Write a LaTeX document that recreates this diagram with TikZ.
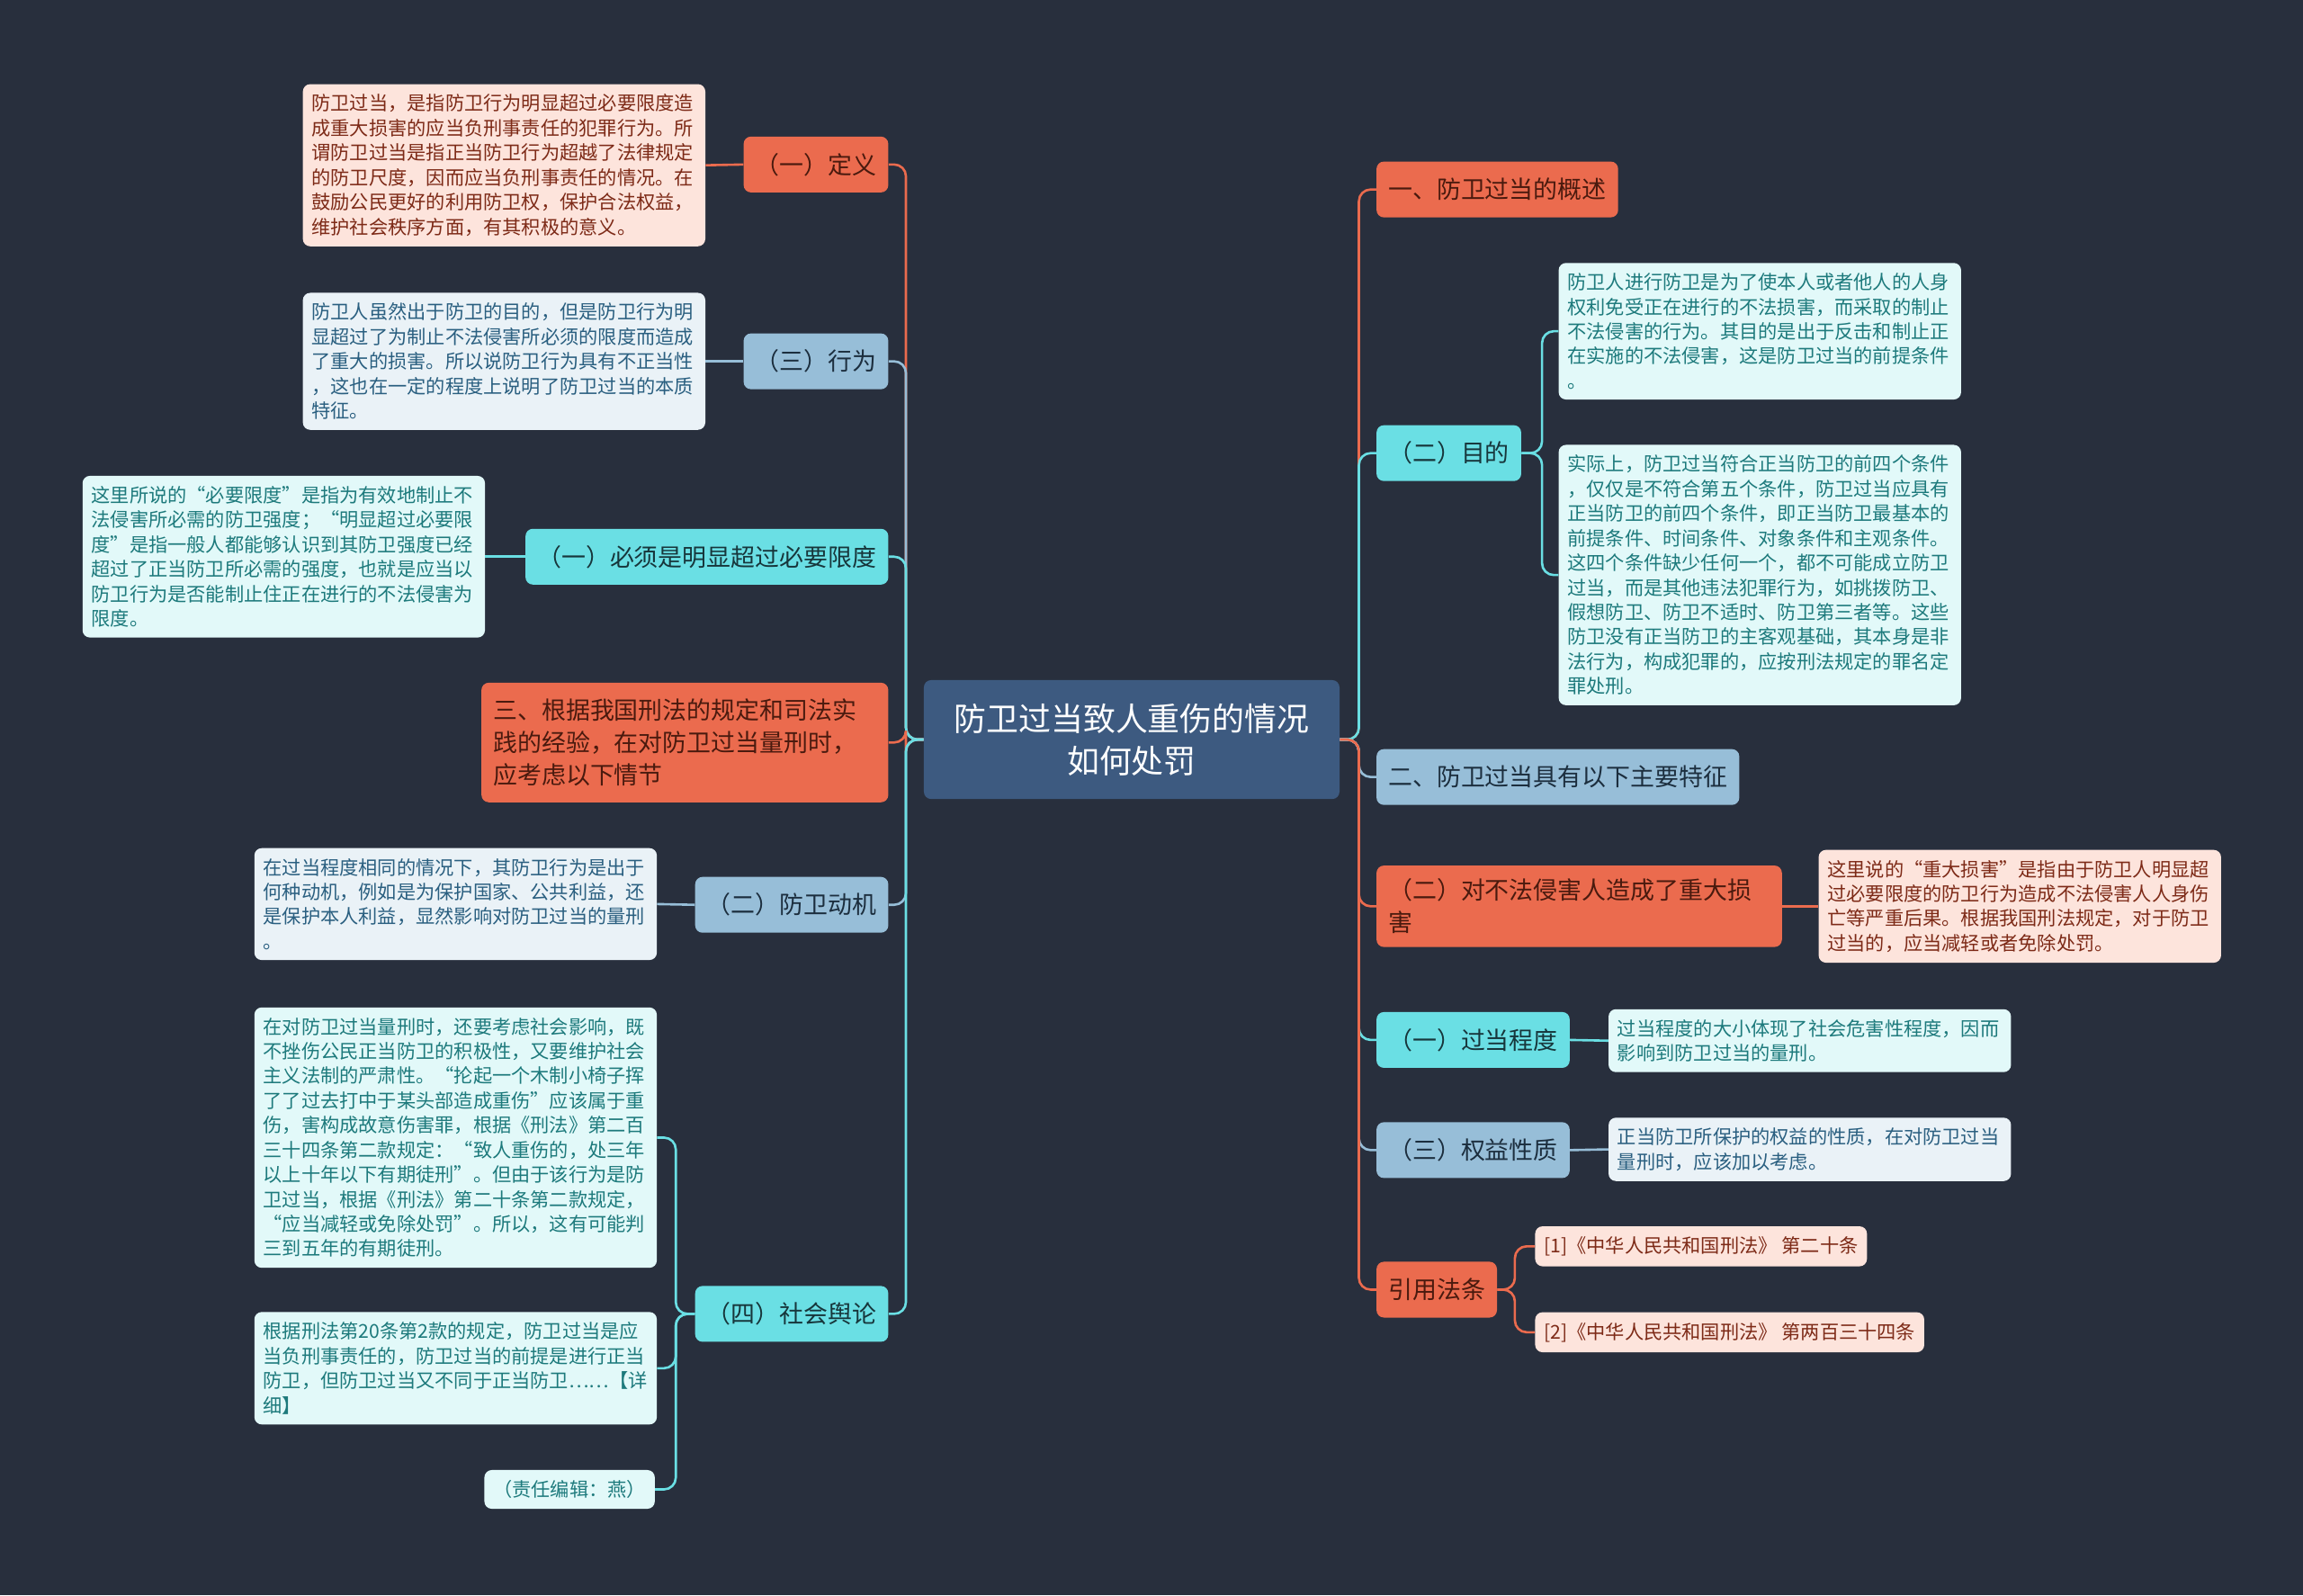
\documentclass[tikz,border=0pt]{standalone}
\usepackage{fontspec}
\setmainfont{Noto Sans CJK SC}

\definecolor{bgc}{HTML}{282F3D}
\definecolor{rootc}{HTML}{3D5A80}
\definecolor{orangec}{HTML}{EB6B4E}
\definecolor{cyanc}{HTML}{6ADFE4}
\definecolor{bluec}{HTML}{97BED8}
\definecolor{orangetxt}{HTML}{4A1A0E}
\definecolor{cyantxt}{HTML}{17363B}
\definecolor{bluetxt}{HTML}{1C2E3E}
\definecolor{pinkfill}{HTML}{FDE4DC}
\definecolor{pinktxt}{HTML}{7D2A17}
\definecolor{cyanfill}{HTML}{E2F9F9}
\definecolor{cyanleaftxt}{HTML}{1D7A7C}
\definecolor{bluefill}{HTML}{EAF2F7}
\definecolor{blueleaftxt}{HTML}{2A5F80}

\begin{document}
\begin{tikzpicture}[x=1pt,y=-1pt,
  topic/.style={rounded corners=5pt, inner xsep=8pt, inner ysep=4pt, minimum height=38pt,
    font=\fontsize{16.5}{22}\selectfont, align=left},
  orangenode/.style={topic, fill=orangec, text=orangetxt},
  cyannode/.style={topic, fill=cyanc, text=cyantxt},
  bluenode/.style={topic, fill=bluec, text=bluetxt},
  leaf/.style={rounded corners=5pt, inner xsep=6pt, inner ysep=7pt,
    font=\fontsize{13}{16.8}\selectfont, align=left},
  pinkleaf/.style={leaf, fill=pinkfill, text=pinktxt},
  cyanleaf/.style={leaf, fill=cyanfill, text=cyanleaftxt},
  blueleaf/.style={leaf, fill=bluefill, text=blueleaftxt},
  link/.style={line width=1.6pt, rounded corners=8pt}]

\fill[bgc] (0,0) rectangle (1568,1086);
\useasboundingbox (0,0) rectangle (1568,1086);

% --- Root ---
\node[fill=rootc, text=white, rounded corners=5pt, minimum width=283pt, minimum height=81pt,
  font=\fontsize{22}{29}\selectfont, align=center] (root) at (770.5,503.5)
  {防卫过当致人重伤的情况\\如何处罚};

% --- Left topics ---
\node[orangenode, anchor=east] (dingyi) at (605,112) {（一）定义};
\node[bluenode, anchor=east] (xingwei) at (605,246) {（三）行为};
\node[cyannode, anchor=east] (bixu) at (605,379) {（一）必须是明显超过必要限度};
\node[orangenode, anchor=east, text width=261pt, inner ysep=11pt] (san) at (605,505.5)
  {三、根据我国刑法的规定和司法实\\践的经验，在对防卫过当量刑时，\\应考虑以下情节};
\node[bluenode, anchor=east] (dongji) at (605,616) {（二）防卫动机};
\node[cyannode, anchor=east] (yulun) at (605,894.5) {（四）社会舆论};

% --- Left leaves ---
\node[pinkleaf, anchor=west, text width=262pt] (dingyiT) at (206,112.5)
  {防卫过当，是指防卫行为明显超过必要限度造\\成重大损害的应当负刑事责任的犯罪行为。所\\谓防卫过当是指正当防卫行为超越了法律规定\\的防卫尺度，因而应当负刑事责任的情况。在\\鼓励公民更好的利用防卫权，保护合法权益，\\维护社会秩序方面，有其积极的意义。};
\node[blueleaf, anchor=west, text width=262pt] (xingweiT) at (206,246)
  {防卫人虽然出于防卫的目的，但是防卫行为明\\显超过了为制止不法侵害所必须的限度而造成\\了重大的损害。所以说防卫行为具有不正当性\\，这也在一定的程度上说明了防卫过当的本质\\特征。};
\node[cyanleaf, anchor=west, text width=262pt] (bixuT) at (56,379)
  {这里所说的“必要限度”是指为有效地制止不\\法侵害所必需的防卫强度；“明显超过必要限\\度”是指一般人都能够认识到其防卫强度已经\\超过了正当防卫所必需的强度，也就是应当以\\防卫行为是否能制止住正在进行的不法侵害为\\限度。};
\node[blueleaf, anchor=west, text width=262pt] (dongjiT) at (173,615.5)
  {在过当程度相同的情况下，其防卫行为是出于\\何种动机，例如是为保护国家、公共利益，还\\是保护本人利益，显然影响对防卫过当的量刑\\。};
\node[cyanleaf, anchor=west, text width=262pt] (yulunA) at (173,774.5)
  {在对防卫过当量刑时，还要考虑社会影响，既\\不挫伤公民正当防卫的积极性，又要维护社会\\主义法制的严肃性。“抡起一个木制小椅子挥\\了了过去打中于某头部造成重伤”应该属于重\\伤，害构成故意伤害罪，根据《刑法》第二百\\三十四条第二款规定：“致人重伤的，处三年\\以上十年以下有期徒刑”。但由于该行为是防\\卫过当，根据《刑法》第二十条第二款规定，\\“应当减轻或免除处罚”。所以，这有可能判\\三到五年的有期徒刑。};
\node[cyanleaf, anchor=west, text width=262pt] (yulunB) at (173,931.5)
  {根据刑法第20条第2款的规定，防卫过当是应\\当负刑事责任的，防卫过当的前提是进行正当\\防卫，但防卫过当又不同于正当防卫……【详\\细】};
\node[cyanleaf, anchor=east] (yulunC) at (446,1014) {（责任编辑：燕）};

% --- Right topics ---
\node[orangenode, anchor=west] (gaishu) at (937,129) {一、防卫过当的概述};
\node[cyannode, anchor=west] (mudi) at (937,308.5) {（二）目的};
\node[bluenode, anchor=west] (tezheng) at (937,529) {二、防卫过当具有以下主要特征};
\node[orangenode, anchor=west, text width=260pt, inner ysep=9pt] (sunhai) at (937,617)
  {（二）对不法侵害人造成了重大损\\害};
\node[cyannode, anchor=west] (chengdu) at (937,708) {（一）过当程度};
\node[bluenode, anchor=west] (xingzhi) at (937,783) {（三）权益性质};
\node[orangenode, anchor=west] (fatiao) at (937,878) {引用法条};

% --- Right leaves ---
\node[cyanleaf, anchor=west, text width=262pt] (mudiA) at (1061,225.5)
  {防卫人进行防卫是为了使本人或者他人的人身\\权利免受正在进行的不法损害，而采取的制止\\不法侵害的行为。其目的是出于反击和制止正\\在实施的不法侵害，这是防卫过当的前提条件\\。};
\node[cyanleaf, anchor=west, text width=262pt] (mudiB) at (1061,391.5)
  {实际上，防卫过当符合正当防卫的前四个条件\\，仅仅是不符合第五个条件，防卫过当应具有\\正当防卫的前四个条件，即正当防卫最基本的\\前提条件、时间条件、对象条件和主观条件。\\这四个条件缺少任何一个，都不可能成立防卫\\过当，而是其他违法犯罪行为，如挑拨防卫、\\假想防卫、防卫不适时、防卫第三者等。这些\\防卫没有正当防卫的主客观基础，其本身是非\\法行为，构成犯罪的，应按刑法规定的罪名定\\罪处刑。};
\node[pinkleaf, anchor=west, text width=262pt] (sunhaiT) at (1238,617)
  {这里说的“重大损害”是指由于防卫人明显超\\过必要限度的防卫行为造成不法侵害人人身伤\\亡等严重后果。根据我国刑法规定，对于防卫\\过当的，应当减轻或者免除处罚。};
\node[cyanleaf, anchor=west, text width=262pt] (chengduT) at (1095,708.5)
  {过当程度的大小体现了社会危害性程度，因而\\影响到防卫过当的量刑。};
\node[blueleaf, anchor=west, text width=262pt] (xingzhiT) at (1095,782.5)
  {正当防卫所保护的权益的性质，在对防卫过当\\量刑时，应该加以考虑。};
\node[pinkleaf, anchor=west] (fatiaoA) at (1045,848.5) {[1]《中华人民共和国刑法》 第二十条};
\node[pinkleaf, anchor=west] (fatiaoB) at (1045,907) {[2]《中华人民共和国刑法》 第两百三十四条};

% --- Connectors, left ---
\draw[link, orangec] (root.west) -- ++(-12,0) |- (dingyi.east);
\draw[link, bluec] (root.west) -- ++(-12,0) |- (xingwei.east);
\draw[link, cyanc] (root.west) -- ++(-12,0) |- (bixu.east);
\draw[link, orangec] (root.west) -- ++(-12,0) |- (san.east);
\draw[link, bluec] (root.west) -- ++(-12,0) |- (dongji.east);
\draw[link, cyanc] (root.west) -- ++(-12,0) |- (yulun.east);

\draw[link, orangec] (dingyi.west) -- (dingyiT.east);
\draw[link, bluec] (xingwei.west) -- (xingweiT.east);
\draw[link, cyanc] (bixu.west) -- (bixuT.east);
\draw[link, bluec] (dongji.west) -- (dongjiT.east);
\draw[link, cyanc] (yulun.west) -- ++(-13,0) |- (yulunA.east);
\draw[link, cyanc] (yulun.west) -- ++(-13,0) |- (yulunB.east);
\draw[link, cyanc] (yulun.west) -- ++(-13,0) |- (yulunC.east);

% --- Connectors, right ---
\draw[link, orangec] (root.east) -- ++(13,0) |- (gaishu.west);
\draw[link, cyanc] (root.east) -- ++(13,0) |- (mudi.west);
\draw[link, bluec] (root.east) -- ++(13,0) |- (tezheng.west);
\draw[link, orangec] (root.east) -- ++(13,0) |- (sunhai.west);
\draw[link, cyanc] (root.east) -- ++(13,0) |- (chengdu.west);
\draw[link, bluec] (root.east) -- ++(13,0) |- (xingzhi.west);
\draw[link, orangec] (root.east) -- ++(13,0) |- (fatiao.west);

\draw[link, cyanc] (mudi.east) -- ++(14,0) |- (mudiA.west);
\draw[link, cyanc] (mudi.east) -- ++(14,0) |- (mudiB.west);
\draw[link, orangec] (sunhai.east) -- (sunhaiT.west);
\draw[link, cyanc] (chengdu.east) -- (chengduT.west);
\draw[link, bluec] (xingzhi.east) -- (xingzhiT.west);
\draw[link, orangec] (fatiao.east) -- ++(12,0) |- (fatiaoA.west);
\draw[link, orangec] (fatiao.east) -- ++(12,0) |- (fatiaoB.west);

\end{tikzpicture}
\end{document}
